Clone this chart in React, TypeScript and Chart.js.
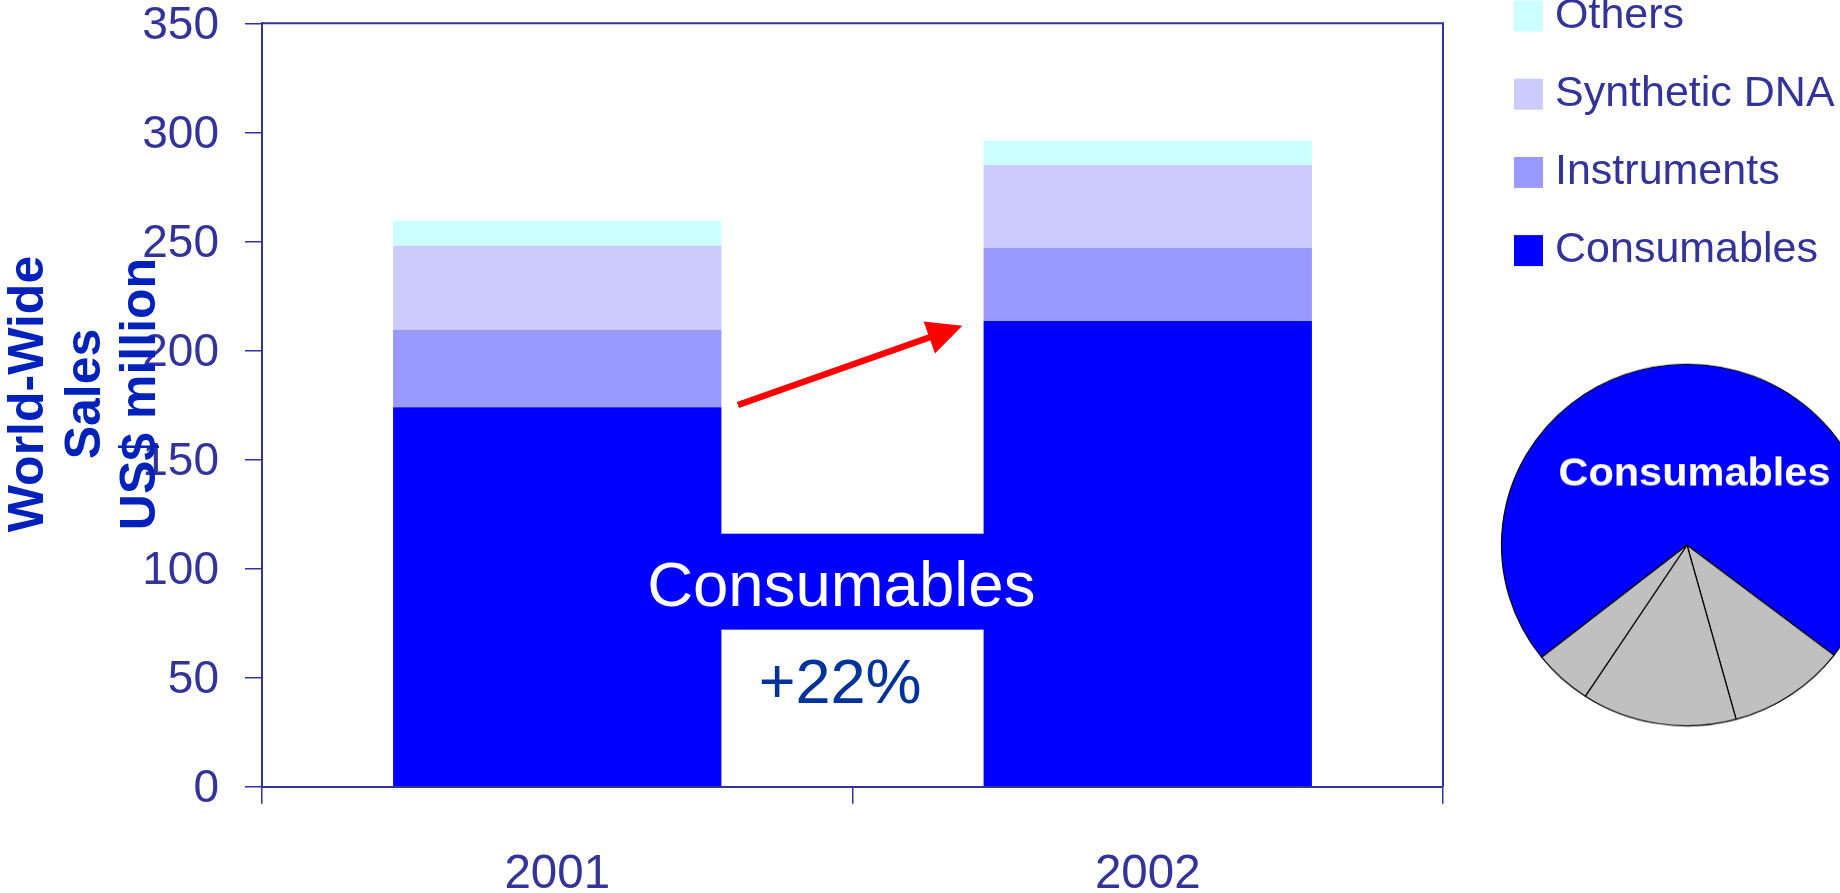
import React, { useEffect, useRef } from 'react';
import { Chart, registerables } from 'chart.js';

Chart.register(...registerables);

// ---- data ----
const categories = ['2001', '2002'];
const consumables = [174, 213.5];
const instruments = [35.5, 33.5];
const syntheticDNA = [38.5, 38];
const others = [11.5, 11];

const yTicks = { min: 0, max: 350, step: 50 };

const seriesLabels = ['Consumables', 'Instruments', 'Synthetic DNA', 'Others'];
const seriesColors = ['#0000ff', '#9999ff', '#ccccff', '#ccffff'];

const pieLabels = ['Consumables', 'Instruments', 'Synthetic DNA', 'Others'];
const pieShares = [71.1, 10.3, 13.5, 5.1];
const pieColors = ['#0000ff', '#c0c0c0', '#c0c0c0', '#c0c0c0'];

const axisTitleLines = ['World-Wide', 'Sales', 'US$ million'];
const growthLabel = '+22%';
const bandLabel = 'Consumables';

// annotation anchors (category index units, value units)
const bandRange = [72, 116];
const bandText = { x: 0.481, y: 82.85 };
const growthText = { x: 0.479, y: 38.5 };
const arrowFrom = { x: 0.306, y: 175 };
const arrowTo = { x: 0.686, y: 211.3 };

const FONT = '"Liberation Sans", Arial, Helvetica, sans-serif';
const AXIS_COLOR = '#333399';

const annotationPlugin = {
  id: 'annotations',
  afterDraw(chart: any) {
    const { ctx, chartArea } = chart;
    const xs = chart.scales.x;
    const ys = chart.scales.y;
    ctx.save();

    // frame top & right
    ctx.strokeStyle = AXIS_COLOR;
    ctx.lineWidth = 2;
    ctx.beginPath();
    ctx.moveTo(chartArea.left, chartArea.top);
    ctx.lineTo(chartArea.right, chartArea.top);
    ctx.lineTo(chartArea.right, chartArea.bottom);
    ctx.stroke();

    // blue band between the consumables bars
    const meta = chart.getDatasetMeta(0).data;
    const b0 = meta[0];
    const b1 = meta[1];
    const bx0 = b0.x + b0.width / 2;
    const bx1 = b1.x - b1.width / 2;
    const by0 = ys.getPixelForValue(bandRange[1]);
    const by1 = ys.getPixelForValue(bandRange[0]);
    ctx.fillStyle = seriesColors[0];
    ctx.fillRect(bx0 - 0.5, by0, bx1 - bx0 + 1, by1 - by0);

    ctx.fillStyle = '#ffffff';
    ctx.font = `63.5px ${FONT}`;
    ctx.textAlign = 'center';
    ctx.textBaseline = 'alphabetic';
    ctx.fillText(bandLabel, xs.getPixelForValue(bandText.x), ys.getPixelForValue(bandText.y));

    ctx.fillStyle = '#003399';
    ctx.font = `63px ${FONT}`;
    ctx.fillText(growthLabel, xs.getPixelForValue(growthText.x), ys.getPixelForValue(growthText.y));

    // arrow
    const ax0 = xs.getPixelForValue(arrowFrom.x);
    const ay0 = ys.getPixelForValue(arrowFrom.y);
    const ax1 = xs.getPixelForValue(arrowTo.x);
    const ay1 = ys.getPixelForValue(arrowTo.y);
    const ang = Math.atan2(ay1 - ay0, ax1 - ax0);
    const headLen = 35;
    const headHalf = 17;
    const baseX = ax1 - Math.cos(ang) * headLen;
    const baseY = ay1 - Math.sin(ang) * headLen;
    ctx.strokeStyle = '#ff0000';
    ctx.fillStyle = '#ff0000';
    ctx.lineWidth = 6.5;
    ctx.beginPath();
    ctx.moveTo(ax0, ay0);
    ctx.lineTo(baseX + Math.cos(ang) * 2, baseY + Math.sin(ang) * 2);
    ctx.stroke();
    ctx.beginPath();
    ctx.moveTo(ax1, ay1);
    ctx.lineTo(baseX + Math.sin(ang) * headHalf, baseY - Math.cos(ang) * headHalf);
    ctx.lineTo(baseX - Math.sin(ang) * headHalf, baseY + Math.cos(ang) * headHalf);
    ctx.closePath();
    ctx.fill();

    // y-axis title (three rotated lines)
    ctx.fillStyle = '#0022bb';
    ctx.font = `bold 50px ${FONT}`;
    ctx.textAlign = 'center';
    ctx.textBaseline = 'alphabetic';
    const cy = (chartArea.top + chartArea.bottom) / 2 - 11;
    const baselines = [43, 99.5, 155];
    axisTitleLines.forEach((t, i) => {
      ctx.save();
      ctx.translate(baselines[i], cy);
      ctx.rotate(-Math.PI / 2);
      ctx.fillText(t, 0, 0);
      ctx.restore();
    });

    // legend (reverse order)
    const ds = chart.data.datasets;
    const order = ds.map((_: any, i: number) => i).reverse();
    ctx.font = `43px ${FONT}`;
    ctx.textAlign = 'left';
    ctx.textBaseline = 'middle';
    order.forEach((di: number, row: number) => {
      const yc = 16 + row * 78.2;
      ctx.fillStyle = ds[di].backgroundColor;
      ctx.fillRect(1514, yc - 15.5, 29, 31);
      ctx.fillStyle = AXIS_COLOR;
      ctx.fillText(ds[di].label, 1555, yc);
    });

    ctx.restore();
  },
};

const pieLabelPlugin = {
  id: 'pieLabel',
  afterDraw(chart: any) {
    const { ctx } = chart;
    const arc = chart.getDatasetMeta(0).data[0];
    const p = arc.getProps(['x', 'y', 'startAngle', 'endAngle', 'outerRadius'], true);
    const mid = (p.startAngle + p.endAngle) / 2;
    const tx = p.x + Math.cos(mid) * p.outerRadius * 0.39 + 8;
    const ty = p.y + Math.sin(mid) * p.outerRadius * 0.39;
    ctx.save();
    ctx.fillStyle = '#ffffff';
    ctx.font = `bold 41.5px ${FONT}`;
    ctx.textAlign = 'center';
    ctx.textBaseline = 'middle';
    ctx.fillText(chart.data.labels[0], tx, ty);
    ctx.restore();
  },
};

export default function App() {
  const barRef = useRef<HTMLCanvasElement>(null);
  const pieRef = useRef<HTMLCanvasElement>(null);

  useEffect(() => {
    if (!barRef.current || !pieRef.current) return;
    const seriesData = [consumables, instruments, syntheticDNA, others];
    const bar = new Chart(barRef.current, {
      type: 'bar',
      data: {
        labels: categories,
        datasets: seriesData.map((d, i) => ({
          label: seriesLabels[i],
          data: d,
          backgroundColor: seriesColors[i],
          borderWidth: 0,
          categoryPercentage: 1,
          barPercentage: 0.556,
        })),
      },
      options: {
        responsive: false,
        animation: false,
        devicePixelRatio: 1,
        layout: { padding: { top: 23.3, right: 397, left: 0, bottom: 0 } },
        plugins: { legend: { display: false }, tooltip: { enabled: false }, title: { display: false } },
        scales: {
          x: {
            stacked: true,
            grid: { offset: true, drawOnChartArea: false, drawTicks: true, tickLength: 17, color: AXIS_COLOR, lineWidth: 1.5 },
            border: { color: AXIS_COLOR, width: 2 },
            ticks: { font: { family: FONT, size: 47.5 }, color: AXIS_COLOR, padding: 43, maxRotation: 0 },
            afterFit: (s: any) => {
              s.height = 106.3;
              s.paddingLeft = 0;
              s.paddingRight = 0;
            },
          },
          y: {
            stacked: true,
            min: yTicks.min,
            max: yTicks.max,
            grid: { drawOnChartArea: false, drawTicks: true, tickLength: 17, color: AXIS_COLOR, lineWidth: 1.5 },
            border: { color: AXIS_COLOR, width: 2 },
            ticks: { stepSize: yTicks.step, font: { family: FONT, size: 46 }, color: AXIS_COLOR, padding: 26, labelOffset: 3 },
            afterFit: (s: any) => {
              s.width = 262;
              s.paddingTop = 0;
              s.paddingBottom = 0;
            },
          },
        },
      } as any,
      plugins: [annotationPlugin],
    });

    const pie = new Chart(pieRef.current, {
      type: 'pie',
      data: {
        labels: pieLabels,
        datasets: [
          {
            data: pieShares,
            backgroundColor: pieColors,
            borderColor: '#000000',
            borderWidth: 1.2,
          },
        ],
      },
      options: {
        responsive: false,
        animation: false,
        devicePixelRatio: 1,
        rotation: 231.6,
        radius: 185.5,
        layout: { padding: 0 },
        plugins: { legend: { display: false }, tooltip: { enabled: false } },
      } as any,
      plugins: [pieLabelPlugin],
    });

    return () => {
      bar.destroy();
      pie.destroy();
    };
  }, []);

  return (
    <div
      style={{
        position: 'absolute',
        left: 0,
        top: 0,
        width: 1840,
        height: 893,
        overflow: 'hidden',
        background: '#ffffff',
      }}
    >
      <canvas ref={barRef} width={1840} height={893} style={{ position: 'absolute', left: 0, top: 0, display: 'block' }} />
      <canvas
        ref={pieRef}
        width={400}
        height={400}
        style={{
          position: 'absolute',
          left: 1487.3,
          top: 344.8,
          display: 'block',
          transform: 'scaleY(0.9745)',
          transformOrigin: '50% 50%',
        }}
      />
    </div>
  );
}
